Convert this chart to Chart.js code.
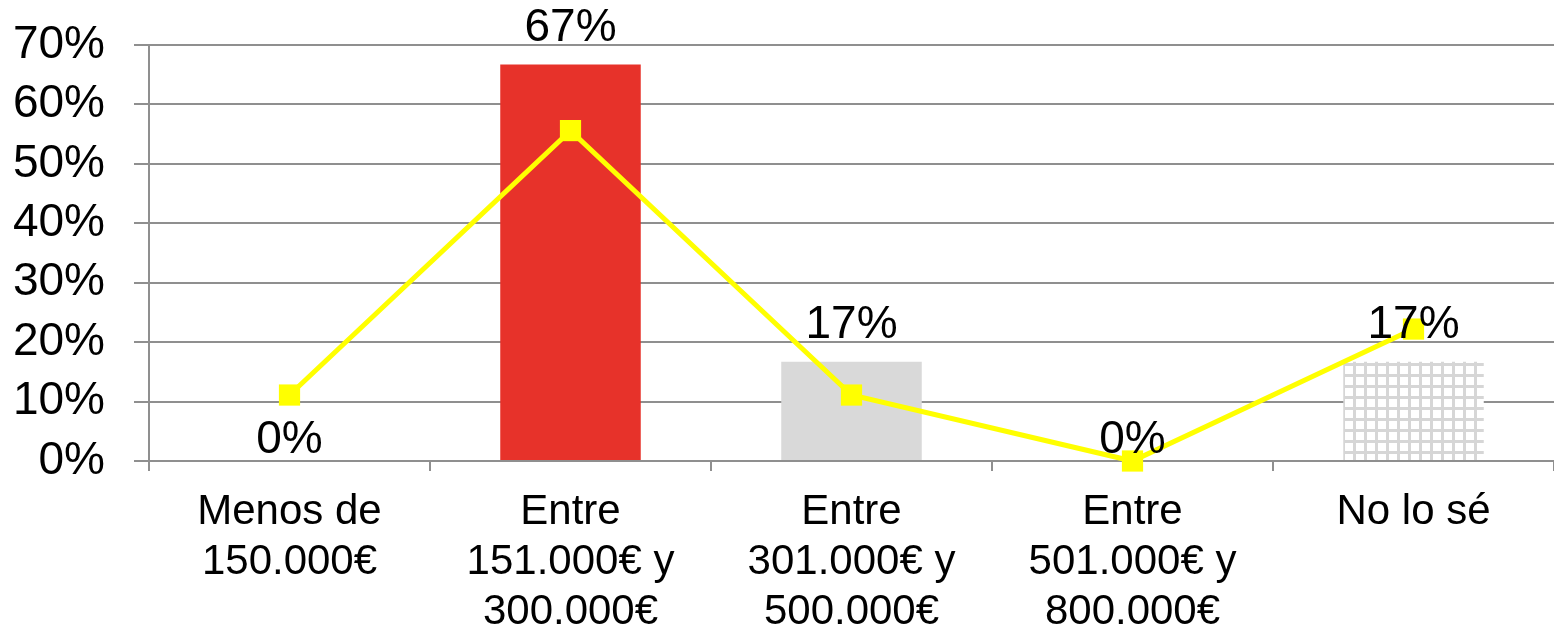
<!DOCTYPE html>
<html>
<head>
<meta charset="utf-8">
<script src="https://cdn.jsdelivr.net/npm/chart.js@4.4.0/dist/chart.umd.min.js"></script>
<style>
html,body{margin:0;padding:0;background:#fff;}
canvas{display:block;}
</style>
</head>
<body>
<canvas id="c" width="1554" height="629"></canvas>
<script>
const categories = [
  ["Menos de", "150.000€"],
  ["Entre", "151.000€ y", "300.000€"],
  ["Entre", "301.000€ y", "500.000€"],
  ["Entre", "501.000€ y", "800.000€"],
  ["No lo sé"]
];
const barValues = [0, 66.7, 16.7, 0, 16.7];
const lineValues = [11.1, 55.6, 11.1, 0, 22.2];
const yTicks = [0, 10, 20, 30, 40, 50, 60, 70];

function makeGridPattern() {
  const p = document.createElement('canvas');
  p.width = 11; p.height = 11;
  const g = p.getContext('2d');
  g.fillStyle = '#ffffff';
  g.fillRect(0, 0, 11, 11);
  g.fillStyle = '#d6d6d6';
  g.fillRect(0, 0, 3, 11);
  g.fillRect(0, 0, 11, 3);
  return document.getElementById('c').getContext('2d').createPattern(p, 'repeat');
}
const gridPattern = makeGridPattern();
const barColors = ['#e7322a', '#e7322a', '#d9d9d9', '#d9d9d9', gridPattern];

const labelPlugin = {
  id: 'barLabels',
  afterDatasetsDraw(chart) {
    const ctx = chart.ctx;
    const meta = chart.getDatasetMeta(1);
    ctx.save();
    ctx.font = '46px "Liberation Sans", Arial, sans-serif';
    ctx.fillStyle = '#000';
    ctx.textAlign = 'center';
    ctx.textBaseline = 'alphabetic';
    meta.data.forEach((bar, i) => {
      const v = barValues[i];
      const off = v > 0 ? 24 : 8;
      ctx.fillText(Math.round(v) + '%', bar.x, bar.y - off);
    });
    ctx.restore();
  }
};

new Chart(document.getElementById('c'), {
  data: {
    labels: categories,
    datasets: [
      {
        type: 'line',
        data: lineValues,
        borderColor: '#ffff00',
        borderWidth: 5,
        backgroundColor: '#ffff00',
        pointStyle: 'rect',
        pointRadius: 15,
        pointBorderWidth: 0,
        pointBackgroundColor: '#ffff00',
        tension: 0,
        clip: false,
        order: 0
      },
      {
        type: 'bar',
        data: barValues,
        backgroundColor: barColors,
        borderWidth: 0,
        barPercentage: 0.5,
        categoryPercentage: 1.0,
        order: 1
      }
    ]
  },
  options: {
    responsive: false,
    animation: false,
    events: [],
    layout: { autoPadding: false, padding: { top: 45, right: 0, left: 0, bottom: 0 } },
    plugins: { legend: { display: false }, tooltip: { enabled: false }, title: { display: false } },
    scales: {
      x: {
        offset: true,
        grid: { display: true, drawOnChartArea: false, drawTicks: true, tickLength: 10, color: '#8f8f8f', lineWidth: 2, offset: true },
        border: { display: true, color: '#8f8f8f', width: 2 },
        ticks: {
          color: '#000',
          padding: 16,
          maxRotation: 0,
          autoSkip: false,
          font: { family: '"Liberation Sans", Arial, sans-serif', size: 42, lineHeight: 1.19 }
        },
        afterFit(s) { s.height = 168; s.paddingLeft = 0; s.paddingRight = 0; }
      },
      y: {
        min: 0,
        max: 70,
        afterBuildTicks(s) { s.ticks = yTicks.map(v => ({ value: v })); },
        grid: { color: '#8f8f8f', lineWidth: 2, drawTicks: true, tickLength: 15 },
        border: { display: true, color: '#8f8f8f', width: 2 },
        ticks: {
          color: '#000',
          padding: 29,
          autoSkip: false,
          callback: v => v + '%',
          font: { family: '"Liberation Sans", Arial, sans-serif', size: 46 }
        },
        afterFit(s) { s.width = 149; s.paddingTop = 0; s.paddingBottom = 0; }
      }
    }
  },
  plugins: [labelPlugin]
});
</script>
</body>
</html>
